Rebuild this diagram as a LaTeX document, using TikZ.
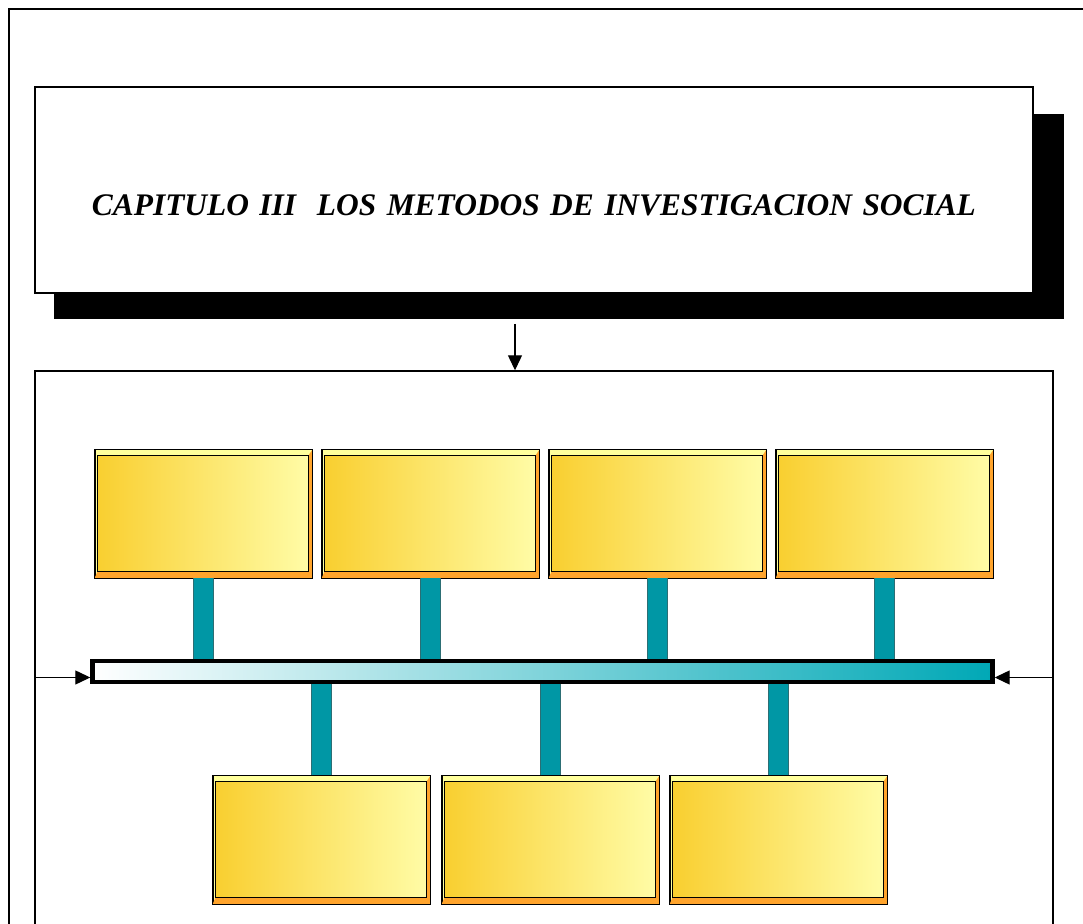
\documentclass[tikz,border=0pt]{standalone}
\usepackage{fontspec}
\setmainfont{Liberation Serif}
\usetikzlibrary{arrows.meta,positioning,backgrounds}
\definecolor{MetodoGold}{HTML}{F9CF30}
\definecolor{MetodoPale}{HTML}{FFFCA6}
\definecolor{MetodoBevel}{HTML}{FFFF9C}
\definecolor{MetodoOrange}{HTML}{FFA42C}
\definecolor{BusTeal}{HTML}{0097A5}
\definecolor{BusCyan}{HTML}{00A8B6}
\definecolor{BusTealDark}{HTML}{2C6E74}

\begin{document}
\begin{tikzpicture}[
  x=0.5pt, y=-0.5pt,
  node distance=4.5pt,
  metbox/.style={
    draw=black,
    fill=MetodoBevel,
    line width=0.5pt,
    inner sep=0pt,
    minimum width=108.5pt,
    minimum height=64pt
  },
  metface/.style={draw=black, line width=0.5pt, left color=MetodoGold, right color=MetodoPale},
  titlebox/.style={
    draw=black,
    fill=white,
    line width=0.6pt,
    inner sep=0pt,
    text width=499pt,
    align=center,
    text height=64.5pt,
    text depth=38.5pt,
    font=\fontsize{15.7}{18}\selectfont\bfseries\itshape
  },
  panelbox/.style={draw=black, line width=0.7pt, inner sep=0pt, minimum width=509pt, minimum height=300pt},
  busbar/.style={
    draw=black,
    line width=2.2pt,
    inner sep=0pt,
    minimum width=450pt,
    minimum height=10.5pt,
    left color=white,
    right color=BusCyan
  },
  link/.style={draw=BusTealDark, line width=10.5pt, postaction={draw=BusTeal, line width=9.5pt}},
  flowarrow/.style={-{Triangle[length=7.5pt,width=7pt]}, line width=0.6pt, draw=black}
]
\useasboundingbox (0,0) rectangle (1083,924);
\clip (0,0) rectangle (1083,924);

% outer frame
\draw[line width=0.8pt] (9,9) rectangle (1120,960);

% title and lower panel
\node[titlebox] (title) at (534,190) {CAPITULO III~~LOS METODOS DE INVESTIGACION SOCIAL};
\begin{scope}[on background layer]
  \fill[black] ([shift={(10pt,-12.5pt)}]title.south west) rectangle ([shift={(15pt,-14pt)}]title.north east);
\end{scope}
\node[panelbox] (panel) at (544,671) {};
\coordinate (drop) at (515,324);
\draw[flowarrow] (drop) -- (drop |- panel.north);

% bus
\node[busbar] (bus) at (542.5,671.5) {};

% upper row
\node[metbox] (m1) at (203.5,514) {};
\node[metbox, right=of m1] (m2) {};
\node[metbox, right=of m2] (m3) {};
\node[metbox, right=of m3] (m4) {};

% lower row
\node[metbox] (m5) at (321.5,840) {};
\node[metbox, right=5.5pt of m5] (m6) {};
\node[metbox, right=5pt of m6] (m7) {};

\foreach \m in {m1,m2,m3,m4,m5,m6,m7} {
  \fill[MetodoOrange] (\m.south west) -- (\m.south east) -- (\m.north east)
    -- ([shift={(-2pt,-3pt)}]\m.north east) -- ([shift={(-2pt,3.5pt)}]\m.south east)
    -- ([shift={(1.5pt,3.5pt)}]\m.south west) -- cycle;
  \draw[metface] ([shift={(1.5pt,-3pt)}]\m.north west) rectangle ([shift={(-2pt,3.5pt)}]\m.south east);
  \draw[line width=0.5pt] (\m.south west) rectangle (\m.north east);
}

% connectors to the bus
\foreach \m in {m1,m2,m3,m4}
  \draw[link] (\m.south) -- (\m.south |- bus.north);
\foreach \m in {m5,m6,m7}
  \draw[link] (\m.north) -- (\m.north |- bus.south);

% side arrows
\draw[flowarrow] ([yshift=-3pt]panel.west |- bus) -- ([yshift=-3pt]bus.west);
\draw[flowarrow] ([yshift=-3pt]panel.east |- bus) -- ([yshift=-3pt]bus.east);
\end{tikzpicture}
\end{document}
